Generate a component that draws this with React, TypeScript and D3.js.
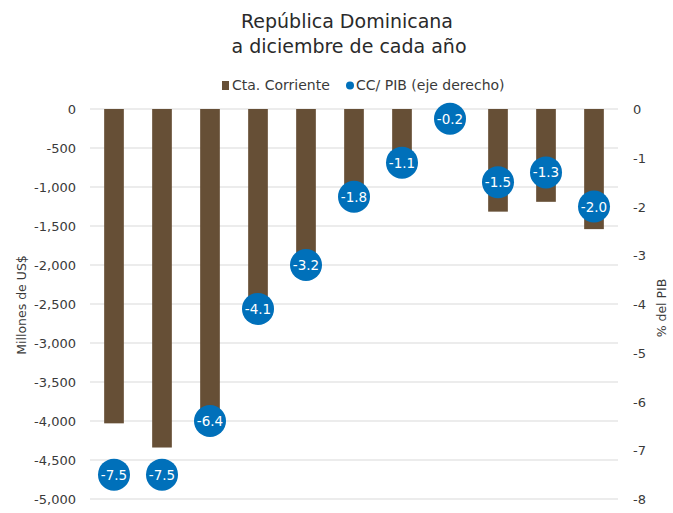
import React from "react";
import * as d3 from "d3";

const categories = ["1", "2", "3", "4", "5", "6", "7", "8", "9", "10", "11"];
const ctaCorriente = [-4030, -4340, -4000, -2550, -2030, -1150, -620, -130, -1316, -1190, -1540];
const ccPib = [-7.5, -7.5, -6.4, -4.1, -3.2, -1.8, -1.1, -0.2, -1.5, -1.3, -2.0];
const leftTicks = [0, -500, -1000, -1500, -2000, -2500, -3000, -3500, -4000, -4500, -5000];
const rightTicks = [0, -1, -2, -3, -4, -5, -6, -7, -8];

const W = 673;
const H = 513;
const FONT = "'DejaVu Sans', sans-serif";
const BAR = "#664F36";
const DOT = "#0070BA";
const TXT = "#3a3a3a";

export default function App() {
  const x = d3.scaleBand().domain(categories).range([90, 618]).paddingInner(0.59).paddingOuter(0.295);
  const yL = d3.scaleLinear().domain([-5000, 0]).range([499, 109]);
  const yR = d3.scaleLinear().domain([-8, 0]).range([499, 109]);
  const fmt = (v: number) => d3.format(",")(v).replace("\u2212", "-");
  return (
    <svg width={W} height={H} style={{ position: "absolute", left: 0, top: 0 }} fontFamily={FONT}>
      <rect width={W} height={H} fill="#fff" />
      <text x={347} y={28} textAnchor="middle" fontSize={19} fill="#2a2a2a">República Dominicana</text>
      <text x={349} y={53} textAnchor="middle" fontSize={19} fill="#2a2a2a">a diciembre de cada año</text>
      <rect x={222} y={81} width={7} height={9} fill={BAR} />
      <text x={232} y={90} fontSize={14} fill={TXT}>Cta. Corriente</text>
      <circle cx={350} cy={85.5} r={4} fill={DOT} />
      <text x={356} y={90} fontSize={14} fill={TXT}>CC/ PIB (eje derecho)</text>
      {leftTicks.map((t) => (
        <g key={t}>
          <line x1={90} x2={618} y1={yL(t)} y2={yL(t)} stroke="#d9d9d9" strokeWidth={1} />
          <text x={76} y={yL(t) + 5} textAnchor="end" fontSize={13} fill={TXT}>{fmt(t)}</text>
        </g>
      ))}
      {rightTicks.map((t) => (
        <text key={t} x={633} y={yR(t) + 5} fontSize={13} fill={TXT}>{t}</text>
      ))}
      <text transform="translate(26,305) rotate(-90)" textAnchor="middle" fontSize={12.5} fill={TXT}>Millones de US$</text>
      <text transform="translate(666,308) rotate(-90)" textAnchor="middle" fontSize={12.5} fill={TXT}>% del PIB</text>
      {categories.map((c, i) => (
        <rect key={c} x={x(c)} width={x.bandwidth()} y={yL(0)} height={yL(ctaCorriente[i]) - yL(0)} fill={BAR} />
      ))}
      {categories.map((c, i) => {
        const cx = (x(c) as number) + x.bandwidth() / 2;
        const cy = yR(ccPib[i]);
        return (
          <g key={c}>
            <circle cx={cx} cy={cy} r={16} fill={DOT} />
            <text x={cx} y={cy + 5} textAnchor="middle" fontSize={13.5} fill="#fff">{ccPib[i].toFixed(1)}</text>
          </g>
        );
      })}
    </svg>
  );
}
